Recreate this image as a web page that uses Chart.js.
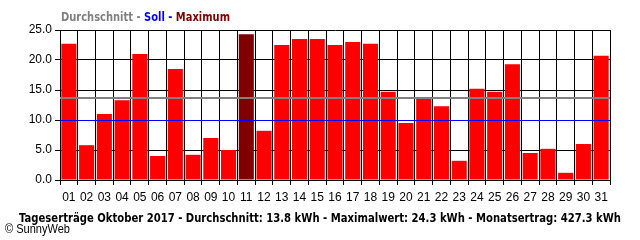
<!DOCTYPE html>
<html>
<head>
<meta charset="utf-8">
<script src="https://cdn.jsdelivr.net/npm/chart.js@4.4.1/dist/chart.umd.min.js"></script>
<style>
  html, body { margin: 0; padding: 0; background: #fff; }
  canvas { display: block; }
</style>
</head>
<body>
<canvas id="chart" width="640" height="240"></canvas>
<script>
var days = ['01','02','03','04','05','06','07','08','09','10','11','12','13','14','15','16',
            '17','18','19','20','21','22','23','24','25','26','27','28','29','30','31'];
var yields = [22.7, 5.8, 11.0, 13.3, 21.0, 4.0, 18.5, 4.2, 7.0, 5.0, 24.3, 8.2, 22.5, 23.5, 23.5, 22.5,
              23.0, 22.7, 14.7, 9.5, 13.6, 12.3, 3.2, 15.2, 14.7, 19.3, 4.5, 5.2, 1.2, 6.0, 20.7];
var average = 13.7;
var target = 10.0;
var yTicks = [0, 5, 10, 15, 20, 25];
var footer = 'Tageserträge Oktober 2017 - Durchschnitt: 13.8 kWh - Maximalwert: 24.3 kWh - Monatsertrag: 427.3 kWh';

var maxIdx = yields.indexOf(Math.max.apply(null, yields));
var barColors = yields.map(function(v, i) { return i == maxIdx ? '#800000' : '#ff0000'; });

// draws text squeezed or stretched to a given width
function fitText(ctx, text, x, y, w) {
  var m = ctx.measureText(text).width;
  ctx.save();
  ctx.translate(x, y);
  ctx.scale(w / m, 1);
  ctx.fillText(text, 0, 0);
  ctx.restore();
}

var refLines = {
  id: 'refLines',
  afterDatasetsDraw: function(chart) {
    var ctx = chart.ctx, a = chart.chartArea, ys = chart.scales.y;
    ctx.save();
    ctx.lineWidth = 2;
    ctx.strokeStyle = '#808080';
    var yy = Math.round(ys.getPixelForValue(average));
    ctx.beginPath(); ctx.moveTo(a.left, yy); ctx.lineTo(a.right, yy); ctx.stroke();
    ctx.lineWidth = 1;
    ctx.strokeStyle = '#0000ff';
    yy = Math.round(ys.getPixelForValue(target)) + 0.5;
    ctx.beginPath(); ctx.moveTo(a.left, yy); ctx.lineTo(a.right, yy); ctx.stroke();
    ctx.restore();
  },
  afterDraw: function(chart) {
    var ctx = chart.ctx;
    ctx.save();
    ctx.textBaseline = 'alphabetic';
    ctx.font = 'bold 13px "DejaVu Sans"';
    var parts = [['Durchschnitt', '#808080'], [' - ', '#808080'], ['Soll', '#0000ff'],
                 [' - ', '#0000ff'], ['Maximum', '#800000']];
    var full = parts.map(function(p) { return p[0]; }).join('');
    var k = 169 / ctx.measureText(full).width;
    var x = 61;
    parts.forEach(function(p) {
      ctx.fillStyle = p[1];
      var w = ctx.measureText(p[0]).width * k;
      fitText(ctx, p[0], x, 21, w);
      x += w;
    });
    ctx.fillStyle = '#000';
    ctx.font = 'bold 13px "DejaVu Sans"';
    fitText(ctx, footer, 19, 222, 602);
    ctx.font = '12px "Liberation Sans"';
    fitText(ctx, '© SunnyWeb', 5, 233, 65);
    ctx.restore();
  }
};

new Chart(document.getElementById('chart'), {
  type: 'bar',
  data: {
    labels: days,
    datasets: [{
      data: yields,
      backgroundColor: barColors,
      borderWidth: 0,
      barPercentage: 0.85,
      categoryPercentage: 1.0
    }]
  },
  options: {
    responsive: false,
    animation: false,
    layout: { padding: { left: 0, top: 30, right: 30, bottom: 0 } },
    plugins: { legend: { display: false }, tooltip: { enabled: false } },
    scales: {
      x: {
        grid: { offset: true, color: '#000', lineWidth: 1, tickLength: 5 },
        border: { color: '#000' },
        ticks: { color: '#000', font: { family: 'Liberation Sans', size: 12 }, padding: 5,
                 maxRotation: 0, autoSkip: false },
        afterFit: function(s) { s.height = 60; }
      },
      y: {
        min: 0,
        max: 25,
        afterBuildTicks: function(s) { s.ticks = yTicks.map(function(v) { return { value: v }; }); },
        grid: { color: '#000', lineWidth: 1, tickLength: 5 },
        border: { color: '#000' },
        ticks: { color: '#000', font: { family: 'Liberation Sans', size: 12 }, padding: 3,
                 callback: function(v) { return v.toFixed(1); } },
        afterFit: function(s) { s.width = 60; }
      }
    }
  },
  plugins: [refLines]
});
</script>
</body>
</html>
